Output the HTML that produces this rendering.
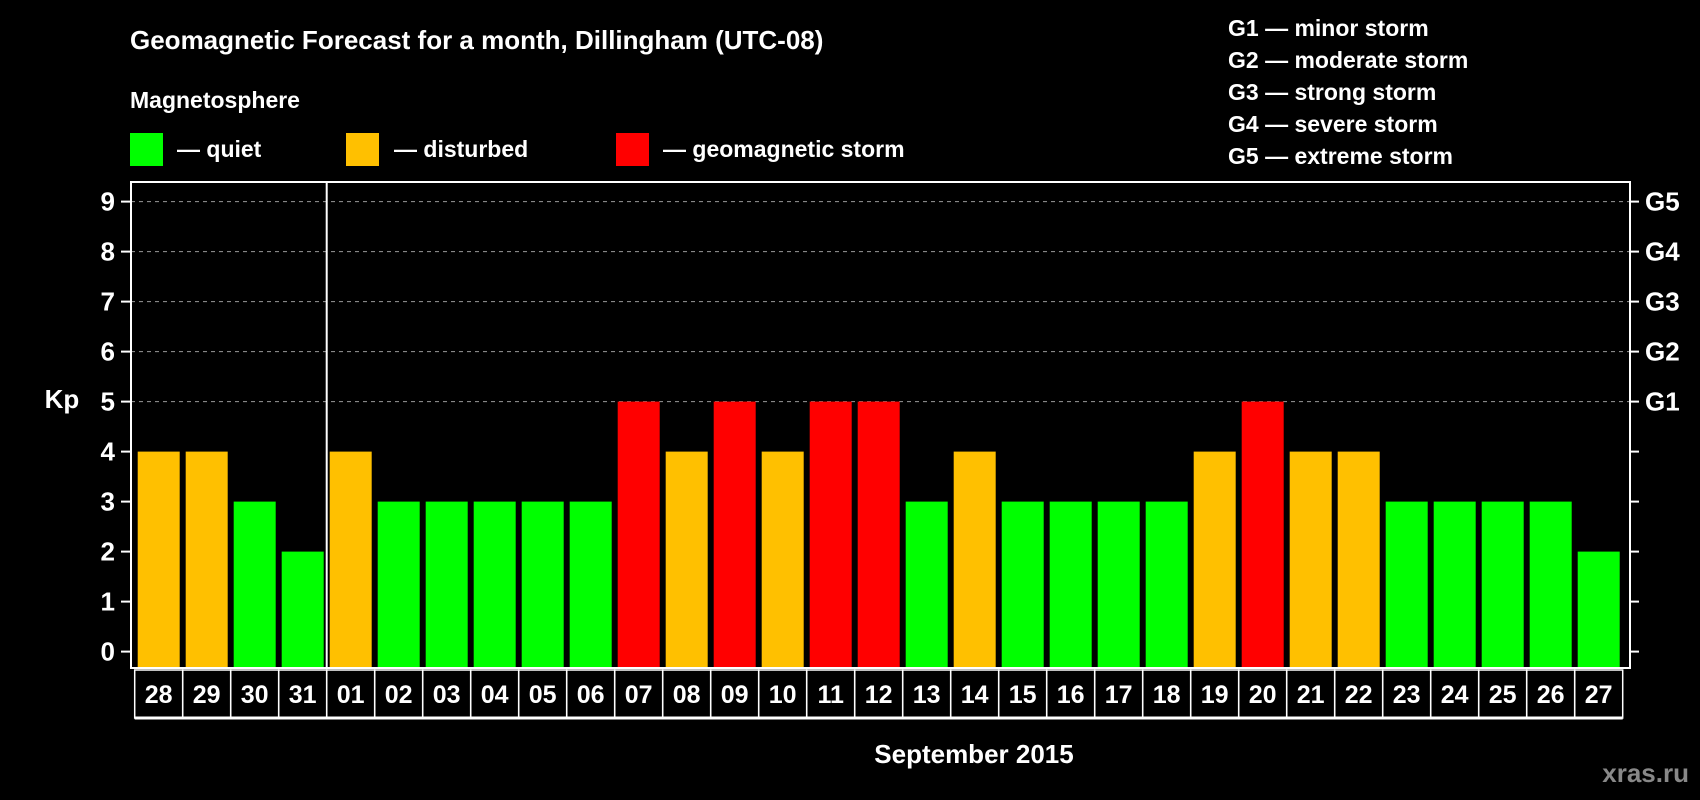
<!DOCTYPE html>
<html><head><meta charset="utf-8"><style>
html,body{margin:0;padding:0;background:#000;}
svg{display:block;font-family:"Liberation Sans",Arial,sans-serif;font-weight:bold;}
</style></head><body>
<svg id="chart" width="1700" height="800" viewBox="0 0 1700 800" xmlns="http://www.w3.org/2000/svg">
<rect width="1700" height="800" fill="#000"/>
<text x="130" y="49" fill="#fff" font-size="26">Geomagnetic Forecast for a month, Dillingham (UTC-08)</text>
<text x="130" y="108" fill="#fff" font-size="23">Magnetosphere</text>
<g><rect x="130" y="133" width="33" height="33" fill="#00ff00"/><text x="177" y="157" fill="#fff" font-size="23">— quiet</text></g>
<g><rect x="346" y="133" width="33" height="33" fill="#ffc000"/><text x="394" y="157" fill="#fff" font-size="23">— disturbed</text></g>
<g><rect x="616" y="133" width="33" height="33" fill="#ff0000"/><text x="663" y="157" fill="#fff" font-size="23">— geomagnetic storm</text></g>
<g fill="#fff" font-size="23">
<text x="1228" y="36">G1 — minor storm</text>
<text x="1228" y="68">G2 — moderate storm</text>
<text x="1228" y="100">G3 — strong storm</text>
<text x="1228" y="132">G4 — severe storm</text>
<text x="1228" y="164">G5 — extreme storm</text>
</g>
<g id="grid"></g>
<g id="bars"></g>
<g id="axes"></g>
<text x="62" y="408" fill="#fff" font-size="26" text-anchor="middle">Kp</text>
<text x="974" y="763" fill="#fff" font-size="26" text-anchor="middle">September 2015</text>
<text x="1689" y="782" fill="#888" font-size="26" text-anchor="end">xras.ru</text>
</svg>
<script>
const days = ["28","29","30","31","01","02","03","04","05","06","07","08","09","10","11","12","13","14","15","16","17","18","19","20","21","22","23","24","25","26","27"];
const kpValues = [4,4,3,2,4,3,3,3,3,3,5,4,5,4,5,5,3,4,3,3,3,3,4,5,4,4,3,3,3,3,2];
const yTicks = [0,1,2,3,4,5,6,7,8,9];
const gLabels = ["","","","","","G1","G2","G3","G4","G5"];
const NS="http://www.w3.org/2000/svg";
const L=131,R=1630,T=182,B=668,X0=137.7,PITCH=48,BW=42;
const y = v => 651.6 - v*50;
const x = i => X0 + i*PITCH;
function mk(tag, attrs, parent){const e=document.createElementNS(NS,tag);for(const k in attrs)e.setAttribute(k,attrs[k]);parent.appendChild(e);return e;}
const grid=document.getElementById('grid'), bars=document.getElementById('bars'), axes=document.getElementById('axes');
yTicks.forEach(v=>{
  if(v>=5){const g=mk('line',{x1:L,x2:R,y1:y(v),y2:y(v),stroke:'#999','stroke-dasharray':'4,4','stroke-width':1},grid);
  
  }
  const tl=mk('line',{x1:L-10,x2:L,y1:y(v),y2:y(v),stroke:'#fff','stroke-width':2},axes);
  
  
  const tr=mk('line',{x1:R,x2:R+9,y1:y(v),y2:y(v),stroke:'#fff','stroke-width':2},axes);
  
  
  const t=mk('text',{x:115,y:y(v)+9,fill:'#fff','font-size':26,'text-anchor':'end'},axes);t.textContent=v;
  
  
  if(gLabels[v]){const g2=mk('text',{x:1645,y:y(v)+9,fill:'#fff','font-size':26},axes);g2.textContent=gLabels[v];
  
  }
});
kpValues.forEach((v,i)=>{
  const c = v>=5?'#ff0000':(v>=4?'#ffc000':'#00ff00');
  const b=mk('rect',{x:x(i),y:y(v),width:BW,height:B-y(v),fill:c},bars);
  
  
  const cell=mk('rect',{x:x(i)-3,y:B+2,width:PITCH,height:48,fill:'none',stroke:'#fff','stroke-width':1.5},axes);
  
  
  const t=mk('text',{x:x(i)+BW/2,y:B+35,fill:'#fff','font-size':25,'text-anchor':'middle'},axes);t.textContent=days[i];
  
  
});
const bl=mk('line',{x1:x(0)-3,x2:x(days.length-1)+PITCH-3,y1:B+50,y2:B+50,stroke:'#fff','stroke-width':3},axes);


const fr=mk('rect',{x:L,y:T,width:R-L,height:B-T,fill:'none',stroke:'#fff','stroke-width':2},axes);


const mi=days.indexOf('01');
const dv=mk('line',{x1:x(mi)-3,x2:x(mi)-3,y1:T,y2:B,stroke:'#fff','stroke-width':2},axes);


</script>
</body></html>
